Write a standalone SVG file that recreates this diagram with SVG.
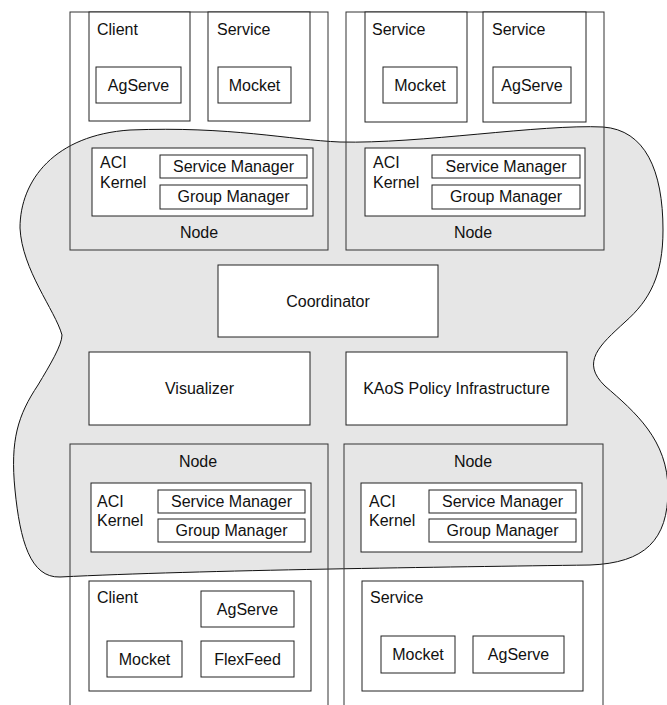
<svg xmlns="http://www.w3.org/2000/svg" width="667" height="705" viewBox="0 0 667 705">
  <style>
    .frame { fill: none; stroke: #333; stroke-width: 1; }
    .box { fill: #fff; stroke: #222; stroke-width: 1; }
    .blob { fill: #e6e6e6; stroke: #111; stroke-width: 1; }
    text { font-family: "Liberation Sans", Arial, sans-serif; font-size: 16px; fill: #111; }
    .c { text-anchor: middle; }
  </style>
  <rect width="667" height="705" fill="#fff"/>

  <!-- shared agent-infrastructure region -->
  <path id="infrastructure" class="blob" d="M 130,130
    C 230,126 290,140 340,142
    C 420,144 540,124 603,127
    C 645,130 663,170 663,230
    C 663,275 650,300 625,322
    C 600,345 580,362 605,386
    C 635,412 668,440 668,490
    C 668,540 645,563 590,565
    C 450,567 200,570 60,577
    C 30,578 20,540 15,490
    C 10,440 18,415 38,385
    C 50,365 62,345 62,335
    C 55,310 22,270 20,228
    C 20,180 55,135 130,130 Z"/>

  <!-- top-left node -->
  <g id="node-top-left">
    <rect class="frame" x="70" y="12" width="258" height="238"/>
    <rect class="box" x="89" y="12" width="101" height="109"/>
    <text x="97" y="35">Client</text>
    <rect class="box" x="96" y="67" width="85" height="36"/>
    <text class="c" x="138.5" y="91">AgServe</text>
    <rect class="box" x="208" y="12" width="102" height="109"/>
    <text x="217" y="35">Service</text>
    <rect class="box" x="218" y="67" width="73" height="36"/>
    <text class="c" x="254.5" y="91">Mocket</text>
    <rect class="box" x="92" y="148" width="221" height="68"/>
    <text x="100" y="168">ACI</text>
    <text x="100" y="188">Kernel</text>
    <rect class="box" x="160" y="155" width="147" height="23"/>
    <text class="c" x="233.5" y="172">Service Manager</text>
    <rect class="box" x="160" y="185" width="147" height="24"/>
    <text class="c" x="233.5" y="202">Group Manager</text>
    <text class="c" x="199" y="238">Node</text>
  </g>

  <!-- top-right node -->
  <g id="node-top-right">
    <rect class="frame" x="346" y="12" width="258" height="238"/>
    <rect class="box" x="365" y="12" width="102" height="110"/>
    <text x="372" y="35">Service</text>
    <rect class="box" x="383" y="67" width="74" height="36"/>
    <text class="c" x="420" y="91">Mocket</text>
    <rect class="box" x="483" y="12" width="103" height="110"/>
    <text x="492" y="35">Service</text>
    <rect class="box" x="493" y="67" width="78" height="36"/>
    <text class="c" x="532" y="91">AgServe</text>
    <rect class="box" x="365" y="148" width="220" height="68"/>
    <text x="373" y="168">ACI</text>
    <text x="373" y="188">Kernel</text>
    <rect class="box" x="432" y="155" width="148" height="23"/>
    <text class="c" x="506" y="172">Service Manager</text>
    <rect class="box" x="432" y="185" width="148" height="24"/>
    <text class="c" x="506" y="202">Group Manager</text>
    <text class="c" x="473" y="238">Node</text>
  </g>

  <!-- central services -->
  <g id="coordinator">
    <rect class="box" x="218" y="265" width="220" height="72"/>
    <text class="c" x="328" y="307">Coordinator</text>
  </g>
  <g id="visualizer">
    <rect class="box" x="89" y="352" width="221" height="73"/>
    <text class="c" x="199.5" y="394">Visualizer</text>
  </g>
  <g id="kaos">
    <rect class="box" x="346" y="352" width="221" height="73"/>
    <text class="c" x="456.5" y="394">KAoS Policy Infrastructure</text>
  </g>

  <!-- bottom-left node -->
  <g id="node-bottom-left">
    <rect class="frame" x="70" y="444" width="258" height="300"/>
    <text class="c" x="198" y="467">Node</text>
    <rect class="box" x="91" y="483" width="220" height="69"/>
    <text x="97" y="507">ACI</text>
    <text x="97" y="526">Kernel</text>
    <rect class="box" x="158" y="490" width="147" height="23"/>
    <text class="c" x="231.5" y="507">Service Manager</text>
    <rect class="box" x="158" y="519" width="147" height="23"/>
    <text class="c" x="231.5" y="536">Group Manager</text>
    <rect class="box" x="89" y="581" width="222" height="110"/>
    <text x="97" y="603">Client</text>
    <rect class="box" x="201" y="591" width="93" height="36"/>
    <text class="c" x="247.5" y="615">AgServe</text>
    <rect class="box" x="107" y="641" width="75" height="36"/>
    <text class="c" x="144.5" y="665">Mocket</text>
    <rect class="box" x="201" y="641" width="93" height="36"/>
    <text class="c" x="247.5" y="665">FlexFeed</text>
  </g>

  <!-- bottom-right node -->
  <g id="node-bottom-right">
    <rect class="frame" x="344" y="444" width="259" height="300"/>
    <text class="c" x="473" y="467">Node</text>
    <rect class="box" x="361" y="483" width="221" height="69"/>
    <text x="369" y="507">ACI</text>
    <text x="369" y="526">Kernel</text>
    <rect class="box" x="429" y="490" width="147" height="23"/>
    <text class="c" x="502.5" y="507">Service Manager</text>
    <rect class="box" x="429" y="519" width="147" height="23"/>
    <text class="c" x="502.5" y="536">Group Manager</text>
    <rect class="box" x="362" y="581" width="221" height="110"/>
    <text x="370" y="603">Service</text>
    <rect class="box" x="381" y="636" width="74" height="37"/>
    <text class="c" x="418" y="660">Mocket</text>
    <rect class="box" x="473" y="636" width="91" height="37"/>
    <text class="c" x="518.5" y="660">AgServe</text>
  </g>
</svg>
